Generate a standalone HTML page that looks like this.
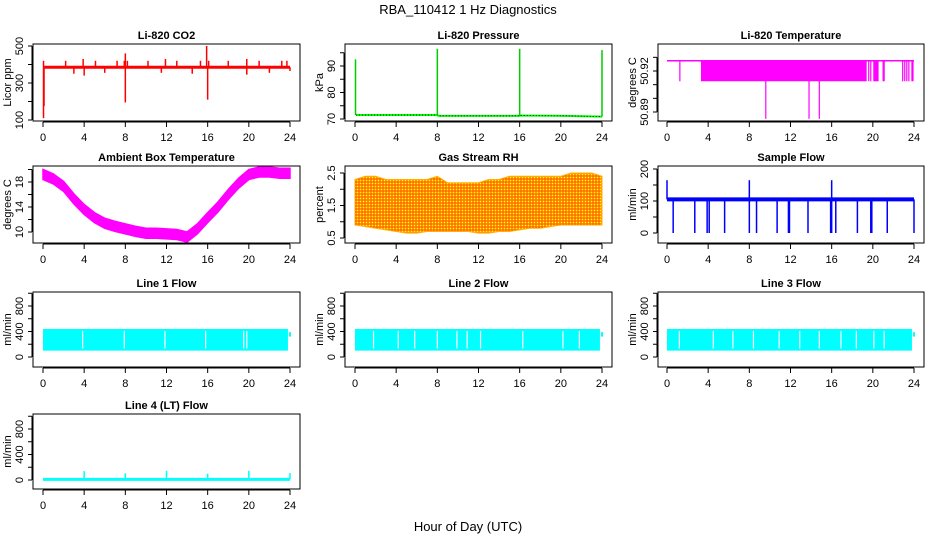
<!DOCTYPE html>
<html><head><meta charset="utf-8">
<style>
html,body{margin:0;padding:0;background:#fff;}
svg{display:block;font-family:"Liberation Sans",Arial,sans-serif;}
.tl{font-size:11px;fill:#000;}
.tt{font-size:11px;font-weight:bold;fill:#000;}
</style></head>
<body>
<svg id="chart" width="936" height="540" viewBox="0 0 936 540" xmlns="http://www.w3.org/2000/svg">
<defs>
<pattern id="rhpat" width="3" height="3" patternUnits="userSpaceOnUse">
<rect width="3" height="3" fill="#ff9a00"/><rect width="1" height="1" fill="#ffff00"/><rect x="1.5" y="1.5" width="1" height="1" fill="#ff0000"/>
</pattern>
</defs>
<text x="468" y="14" text-anchor="middle" font-size="13">RBA_110412  1 Hz Diagnostics</text>
<text x="468" y="531" text-anchor="middle" font-size="13">Hour of Day (UTC)</text>
</svg>
<script>
// ---- data ----
const xTicks = [0,4,8,12,16,20,24];
const co2Base = 385;
const co2SpikeHours = [0.05,0.1,0.05,2.2,3,3.9,4,5.1,6,7.2,7.9,8,8,8.2,10.2,11.5,11.9,13,14.5,15.3,15.9,16,16.1,18,19.8,19.8,21,22,23.2,23.7,24];
const co2SpikeVals  = [110,175,420,420,350,430,340,420,355,420,420,460,195,420,420,355,430,420,350,420,500,210,420,420,430,345,420,355,420,420,365];
const pressHours = [0.1,8,8.1,16,16.1,20.5,24];
const pressVals  = [71.5,71.5,71.2,71.2,71.3,71.2,70.9];
const pressSpikeHours = [0.05,8,16,24];
const pressSpikeVals  = [92.5,96.5,96.5,96];
const t820Top = 50.9275, t820Band = 50.9125, t820Low = 50.885;
const t820BandStart = 3.3, t820BandEnd = 19.4;
const t820MidLines = [1.25,19.6,19.8,20.1,20.2,20.3,20.4,20.5,21,21.1,22.9,23.1,23.3,23.5,23.8,23.9];
const t820LowLines = [9.6,13.8,14.8];
const hours = [0,1,2,3,4,5,6,7,8,9,10,11,12,13,14,15,16,17,18,19,20,21,22,23,24];
const ambCenter = [19.2,18.5,17.3,15.3,13.6,12.3,11.4,10.9,10.5,10.1,9.8,9.8,9.7,9.6,9.2,10.5,12.3,14.0,16.0,17.8,19.2,19.6,19.6,19.4,19.4];
const ambHalfWidth = 0.8;
const rhMax = [2.3,2.4,2.4,2.3,2.3,2.3,2.3,2.3,2.4,2.2,2.2,2.2,2.2,2.3,2.3,2.4,2.4,2.4,2.4,2.4,2.4,2.5,2.5,2.5,2.4];
const rhMin = [0.9,0.85,0.8,0.75,0.7,0.65,0.65,0.7,0.7,0.7,0.7,0.7,0.65,0.65,0.7,0.7,0.75,0.8,0.8,0.85,0.9,0.9,0.9,0.9,0.9];
const flowBase = 105;
const flowDipHours = [0.6,2.7,3.9,4.1,5.6,8,8.7,10.7,11.8,11.9,13.7,15.9,16,16.4,18.5,19.8,19.9,21.4,24];
const flowPeakHours = [0,8,16];
const flowPeakVals = [165,165,165];
const l1Max = 440, l1Min = 100, l1End = 23.8;
const l1Gaps = [3.85,7.9,11.85,15.8,19.5,19.8];
const l2Gaps = [1.8,4.2,5.8,8,9.9,10.9,12.2,16.3,20.2,21.8];
const l3Gaps = [1.2,4.5,6.4,8.4,10.9,12.9,14.8,16.9,18.4,20.1,21.1];
const l4Base = 10;
const l4SpikeHours = [4,8,12,16,20,24];
const l4SpikeVals = [140,105,145,100,145,110];

// ---- layout ----
const svg = document.getElementById('chart');
const NS = 'http://www.w3.org/2000/svg';
const cols = [{b0:33,b1:300,h0:43,h24:290},{b0:345,b1:612,h0:355,h24:602},{b0:658,b1:924,h0:667,h24:914}];
const rows = [{t:44,b:121},{t:166,b:243},{t:292,b:367},{t:414,b:489}];
function el(tag, attrs, parent){const e=document.createElementNS(NS,tag);for(const k in attrs)e.setAttribute(k,attrs[k]);(parent||svg).appendChild(e);return e;}

function panel(name, c, r, title, ylab, yv0, yp0, yv1, yp1, yticks, ylabels){
  const C = cols[c], R = rows[r];
  const g = el('g',{});
  
  
  const X = h => C.h0 + (C.h24 - C.h0) * h / 24;
  const Y = v => yp0 + (yp1 - yp0) * (v - yv0) / (yv1 - yv0);
  const plot = el('g',{},g);
  
  
  const frame = el('g',{},g);
  const box = el('rect',{x:C.b0,y:R.t,width:C.b1-C.b0,height:R.b-R.t,fill:'none',stroke:'#000','stroke-width':1},frame);
  
  
  const t = el('text',{x:(C.b0+C.b1)/2,y:R.t-5,'text-anchor':'middle',class:'tt'},frame);
  t.textContent = title;
  
  
  const xa = el('g',{},frame);
  
  
  el('line',{x1:X(0),x2:X(24),y1:R.b+1,y2:R.b+1,stroke:'#000'},xa);
  xTicks.forEach(h=>{
    el('line',{x1:X(h),x2:X(h),y1:R.b+1,y2:R.b+6,stroke:'#000'},xa);
    const tx = el('text',{x:X(h),y:R.b+20,'text-anchor':'middle',class:'tl'},xa);
    tx.textContent = h;
  });
  const ya = el('g',{},frame);
  
  
  el('line',{x1:C.b0-1,x2:C.b0-1,y1:Y(yticks[0]),y2:Y(yticks[yticks.length-1]),stroke:'#000'},ya);
  yticks.forEach(v=>{
    el('line',{x1:C.b0-5,x2:C.b0-1,y1:Y(v),y2:Y(v),stroke:'#000'},ya);
  });
  ylabels.forEach(v=>{
    const x = C.b0-10, y = Y(v);
    const tx = el('text',{x:x,y:y,'text-anchor':'middle',class:'tl',transform:`rotate(-90 ${x} ${y})`},ya);
    tx.textContent = v;
  });
  const yx = C.b0-22, yy = (R.t+R.b)/2;
  const yt = el('text',{x:yx,y:yy,'text-anchor':'middle',class:'tl',transform:`rotate(-90 ${yx} ${yy})`},frame);
  yt.textContent = ylab;
  
  
  return {X,Y,plot};
}
function ln(p,x1,y1,x2,y2,col,w){return el('line',{x1,y1,x2,y2,stroke:col,'stroke-width':w||1},p);}

// CO2
{const P = panel('co2-panel',0,0,'Li-820 CO2','Licor ppm',100,120,500,46,[100,200,300,400,500],[100,300,500]);
 co2SpikeHours.forEach((h,i)=>ln(P.plot,P.X(h),P.Y(co2Base),P.X(h),P.Y(co2SpikeVals[i]),'#ff0000',1.5));
 ln(P.plot,P.X(0.1),P.Y(co2Base),P.X(24),P.Y(co2Base),'#ff0000',3);}
// Pressure
{const P = panel('pressure-panel',1,0,'Li-820 Pressure','kPa',70,119,90,66,[70,75,80,85,90,95],[70,80,90]);
 el('polyline',{points:pressHours.map((h,i)=>P.X(h)+','+P.Y(pressVals[i])).join(' '),fill:'none',stroke:'#00ff00','stroke-width':2},P.plot);
 el('polyline',{points:pressHours.map((h,i)=>P.X(h)+','+P.Y(pressVals[i])).join(' '),fill:'none',stroke:'#000','stroke-width':0.8,'stroke-dasharray':'1 2'},P.plot);
 pressSpikeHours.forEach((h,i)=>ln(P.plot,P.X(h),P.Y(pressVals[Math.min(i*2,pressVals.length-1)]),P.X(h),P.Y(pressSpikeVals[i]),'#00cc00',1.5));}
// Li-820 temperature
{const P = panel('li820-temp-panel',2,0,'Li-820 Temperature','degrees C',50.89,112,50.92,71,[50.89,50.9,50.91,50.92,50.93],['50.89','50.92']);
 ln(P.plot,P.X(0),P.Y(t820Top),P.X(24),P.Y(t820Top),'#ff00ff',1.5);
 el('rect',{x:P.X(t820BandStart),y:P.Y(t820Top),width:P.X(t820BandEnd)-P.X(t820BandStart),height:P.Y(t820Band)-P.Y(t820Top),fill:'#ff00ff'},P.plot);
 t820MidLines.forEach(h=>ln(P.plot,P.X(h),P.Y(t820Top),P.X(h),P.Y(t820Band),'#ff00ff',1.2));
 t820LowLines.forEach(h=>ln(P.plot,P.X(h),P.Y(t820Top),P.X(h),P.Y(t820Low),'#ff00ff',1.2));}
// Ambient
{const P = panel('ambient-temp-panel',0,1,'Ambient Box Temperature','degrees C',10,232,18,182,[10,12,14,16,18,20],[10,14,18]);
 const up = hours.map((h,i)=>P.X(h)+','+P.Y(ambCenter[i]+ambHalfWidth));
 const dn = hours.map((h,i)=>P.X(h)+','+P.Y(ambCenter[i]-ambHalfWidth)).reverse();
 el('polygon',{points:up.concat(dn).join(' '),fill:'#ff00ff',stroke:'#ff00ff','stroke-width':1.5},P.plot);}
// RH
{const P = panel('rh-panel',1,1,'Gas Stream RH','percent',0.5,238,2.5,173,[0.5,1,1.5,2,2.5],[0.5,1.5,2.5]);
 const up = hours.map((h,i)=>P.X(h)+','+P.Y(rhMax[i]));
 const dn = hours.map((h,i)=>P.X(h)+','+P.Y(rhMin[i])).reverse();
 el('polygon',{points:up.concat(dn).join(' '),fill:'url(#rhpat)',stroke:'#ffb000','stroke-width':1},P.plot);}
// Sample flow
{const P = panel('sample-flow-panel',2,1,'Sample Flow','ml/min',0,233,200,169,[0,50,100,150,200],[0,100,200]);
 flowDipHours.forEach(h=>ln(P.plot,P.X(h),P.Y(flowBase),P.X(h),P.Y(0),'#0000ff',1.5));
 flowPeakHours.forEach((h,i)=>ln(P.plot,P.X(h),P.Y(flowBase),P.X(h),P.Y(flowPeakVals[i]),'#0000ff',1.5));
 ln(P.plot,P.X(0),P.Y(flowBase),P.X(24),P.Y(flowBase),'#0000ff',4);}
// Line flows
function linePanel(name,c,r,title){
 const y0 = r===3?480:357, y1 = r===3?429:306;
 return panel(name,c,r,title,'ml/min',0,y0,800,y1,[0,200,400,600,800,1000],[0,400,800]);}
[['line1-flow-panel',0,2,'Line 1 Flow',l1Gaps],['line2-flow-panel',1,2,'Line 2 Flow',l2Gaps],['line3-flow-panel',2,2,'Line 3 Flow',l3Gaps]].forEach(d=>{
 const P = linePanel(d[0],d[1],d[2],d[3]);
 el('rect',{x:P.X(0),y:P.Y(l1Max),width:P.X(l1End)-P.X(0),height:P.Y(l1Min)-P.Y(l1Max),fill:'#00ffff'},P.plot);
 ln(P.plot,P.X(24),P.Y(320),P.X(24),P.Y(390),'#00ffff',2);
 d[4].forEach(h=>ln(P.plot,P.X(h),P.Y(l1Max)+2,P.X(h),P.Y(l1Min)-2,'#ffffff',1.2));
});
{const P = linePanel('line4-flow-panel',0,3,'Line 4 (LT) Flow');
 ln(P.plot,P.X(0),P.Y(l4Base),P.X(24),P.Y(l4Base),'#00ffff',3);
 l4SpikeHours.forEach((h,i)=>ln(P.plot,P.X(h),P.Y(l4Base),P.X(h),P.Y(l4SpikeVals[i]),'#00ffff',1.5));}
</script>
</body></html>
